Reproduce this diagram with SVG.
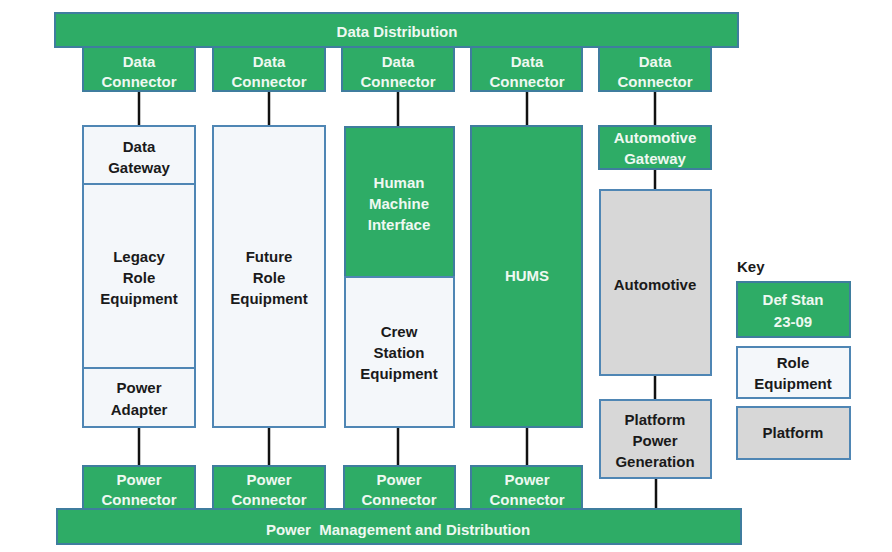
<svg xmlns="http://www.w3.org/2000/svg" width="892" height="552" viewBox="0 0 892 552">
<style>
  text { font-family: "Liberation Sans", Arial, sans-serif; font-weight: bold; font-size: 15px; text-anchor: middle; }
  .g { fill: #2eac66; stroke: #3f7d9e; stroke-width: 2; }
  .r { fill: #f4f7fa; stroke: #4f86b4; stroke-width: 2; }
  .p { fill: #d7d7d7; stroke: #4f86b4; stroke-width: 2; }
  .wt { fill: #eef8f1; }
  .dt { fill: #1a1a1a; }
  .ln { stroke: #111; stroke-width: 2.5; fill: none; }
</style>
<rect width="892" height="552" fill="#ffffff"/>
<g id="connectors">
  <line class="ln" x1="139" y1="91" x2="139" y2="126"/>
  <line class="ln" x1="269" y1="91" x2="269" y2="126"/>
  <line class="ln" x1="398" y1="91" x2="398" y2="127"/>
  <line class="ln" x1="527" y1="91" x2="527" y2="126"/>
  <line class="ln" x1="655" y1="91" x2="655" y2="126"/>
  <line class="ln" x1="655" y1="169" x2="655" y2="190"/>
  <line class="ln" x1="655" y1="375" x2="655" y2="400"/>
  <line class="ln" x1="139" y1="427" x2="139" y2="466"/>
  <line class="ln" x1="269" y1="427" x2="269" y2="466"/>
  <line class="ln" x1="398" y1="427" x2="398" y2="466"/>
  <line class="ln" x1="527" y1="427" x2="527" y2="466"/>
  <line class="ln" x1="656" y1="478" x2="656" y2="509"/>
</g>
<g id="data-distribution">
  <rect class="g" x="55" y="13" width="683" height="34"/>
  <text class="wt" x="397" y="37">Data Distribution</text>
</g>
<g id="data-connector-1">
  <rect class="g" x="83" y="47" width="112" height="44"/>
  <text class="wt" x="139" y="67">Data</text><text class="wt" x="139" y="87">Connector</text>
</g>
<g id="data-connector-2">
  <rect class="g" x="213" y="47" width="112" height="44"/>
  <text class="wt" x="269" y="67">Data</text><text class="wt" x="269" y="87">Connector</text>
</g>
<g id="data-connector-3">
  <rect class="g" x="342" y="47" width="112" height="44"/>
  <text class="wt" x="398" y="67">Data</text><text class="wt" x="398" y="87">Connector</text>
</g>
<g id="data-connector-4">
  <rect class="g" x="471" y="47" width="111" height="44"/>
  <text class="wt" x="527" y="67">Data</text><text class="wt" x="527" y="87">Connector</text>
</g>
<g id="data-connector-5">
  <rect class="g" x="599" y="47" width="112" height="44"/>
  <text class="wt" x="655" y="67">Data</text><text class="wt" x="655" y="87">Connector</text>
</g>
<g id="data-gateway">
  <rect class="r" x="83" y="126" width="112" height="58"/>
  <text class="dt" x="139" y="152">Data</text><text class="dt" x="139" y="173">Gateway</text>
</g>
<g id="legacy-role-equipment">
  <rect class="r" x="83" y="184" width="112" height="184"/>
  <text class="dt" x="139" y="262">Legacy</text><text class="dt" x="139" y="283">Role</text><text class="dt" x="139" y="304">Equipment</text>
</g>
<g id="power-adapter">
  <rect class="r" x="83" y="368" width="112" height="59"/>
  <text class="dt" x="139" y="393">Power</text><text class="dt" x="139" y="415">Adapter</text>
</g>
<g id="future-role-equipment">
  <rect class="r" x="213" y="126" width="112" height="301"/>
  <text class="dt" x="269" y="262">Future</text><text class="dt" x="269" y="283">Role</text><text class="dt" x="269" y="304">Equipment</text>
</g>
<g id="human-machine-interface">
  <rect class="g" x="345" y="127" width="109" height="150"/>
  <text class="wt" x="399" y="188">Human</text><text class="wt" x="399" y="209">Machine</text><text class="wt" x="399" y="230">Interface</text>
</g>
<g id="crew-station-equipment">
  <rect class="r" x="345" y="277" width="109" height="150"/>
  <text class="dt" x="399" y="337">Crew</text><text class="dt" x="399" y="358">Station</text><text class="dt" x="399" y="379">Equipment</text>
</g>
<g id="hums">
  <rect class="g" x="471" y="126" width="111" height="301"/>
  <text class="wt" x="527" y="281">HUMS</text>
</g>
<g id="automotive-gateway">
  <rect class="g" x="599" y="126" width="112" height="43"/>
  <text class="wt" x="655" y="143">Automotive</text><text class="wt" x="655" y="164">Gateway</text>
</g>
<g id="automotive">
  <rect class="p" x="600" y="190" width="111" height="185"/>
  <text class="dt" x="655" y="290">Automotive</text>
</g>
<g id="platform-power-generation">
  <rect class="p" x="600" y="400" width="111" height="78"/>
  <text class="dt" x="655" y="425">Platform</text><text class="dt" x="655" y="446">Power</text><text class="dt" x="655" y="467">Generation</text>
</g>
<g id="power-connector-1">
  <rect class="g" x="83" y="466" width="112" height="43"/>
  <text class="wt" x="139" y="485">Power</text><text class="wt" x="139" y="505">Connector</text>
</g>
<g id="power-connector-2">
  <rect class="g" x="213" y="466" width="112" height="43"/>
  <text class="wt" x="269" y="485">Power</text><text class="wt" x="269" y="505">Connector</text>
</g>
<g id="power-connector-3">
  <rect class="g" x="344" y="466" width="111" height="43"/>
  <text class="wt" x="399" y="485">Power</text><text class="wt" x="399" y="505">Connector</text>
</g>
<g id="power-connector-4">
  <rect class="g" x="471" y="466" width="111" height="43"/>
  <text class="wt" x="527" y="485">Power</text><text class="wt" x="527" y="505">Connector</text>
</g>
<g id="power-management">
  <rect class="g" x="57" y="509" width="684" height="35"/>
  <text class="wt" x="398" y="535" xml:space="preserve">Power  Management and Distribution</text>
</g>
<g id="key">
  <text class="dt" x="737" y="272" style="text-anchor:start">Key</text>
  <g id="key-def-stan">
    <rect class="g" x="737" y="282" width="113" height="55"/>
    <text class="wt" x="793" y="305">Def Stan</text><text class="wt" x="793" y="327">23-09</text>
  </g>
  <g id="key-role-equipment">
    <rect class="r" x="737" y="347" width="113" height="51"/>
    <text class="dt" x="793" y="368">Role</text><text class="dt" x="793" y="389">Equipment</text>
  </g>
  <g id="key-platform">
    <rect class="p" x="737" y="407" width="113" height="52"/>
    <text class="dt" x="793" y="438">Platform</text>
  </g>
</g>
</svg>
